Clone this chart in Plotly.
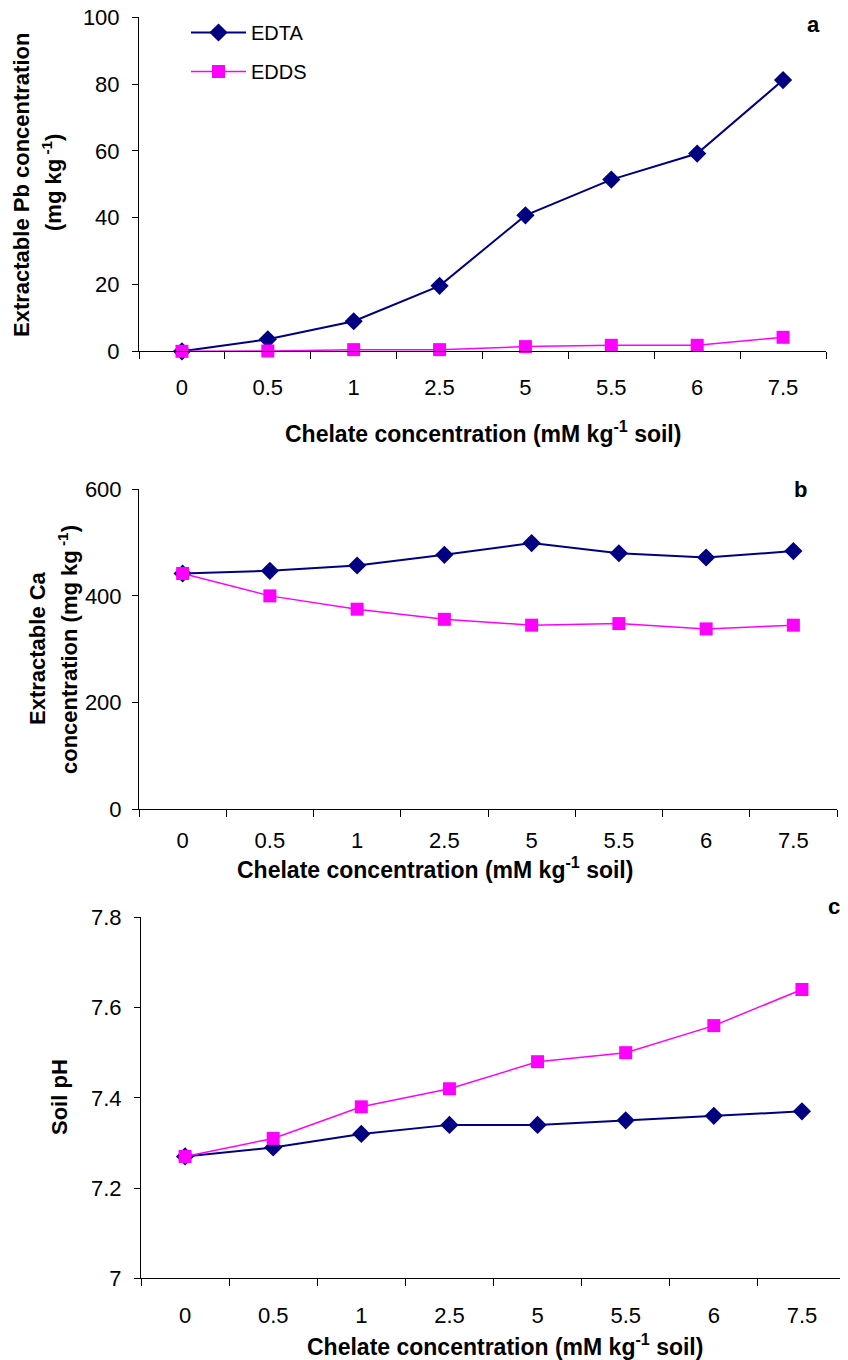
import plotly.graph_objects as go

# ---------------- data ----------------
chelate = ["0", "0.5", "1", "2.5", "5", "5.5", "6", "7.5"]

pb_edta = [0, 3.6, 9.0, 19.6, 40.7, 51.4, 59.2, 81.2]
pb_edds = [0, 0.1, 0.5, 0.5, 1.4, 1.8, 1.8, 4.2]

ca_edta = [442, 447, 457, 477, 499, 480, 472, 484]
ca_edds = [442, 400, 375, 356, 345, 348, 338, 345]

ph_edta = [7.27, 7.29, 7.32, 7.34, 7.34, 7.35, 7.36, 7.37]
ph_edds = [7.27, 7.31, 7.38, 7.42, 7.48, 7.50, 7.56, 7.64]

pb_ticks = [0, 20, 40, 60, 80, 100]
ca_ticks = [0, 200, 400, 600]
ph_ticks = [7.0, 7.2, 7.4, 7.6, 7.8]
ph_ticktext = ["7", "7.2", "7.4", "7.6", "7.8"]

# ---------------- layout helpers ----------------
OFF = 8  # page body margin
W, H = 848 - OFF, 1360 - OFF
def px(x):
    return (x - OFF) / W
def py(y):
    return 1 - (y - OFF) / H
def xd(l, r):
    return [px(l), px(r)]
def yd(t, b):
    return [py(b), py(t)]

NAVY = "#000080"
MAG = "#FF00FF"
FONT = "Liberation Sans, Arial, sans-serif"

fig = go.Figure()

def add_pair(edta, edds, xa, ya, show):
    fig.add_trace(go.Scatter(
        x=chelate, y=edta, name="EDTA", mode="lines+markers",
        line=dict(color=NAVY, width=2),
        marker=dict(symbol="diamond", size=14, color=NAVY),
        xaxis=xa, yaxis=ya, showlegend=show, legendgroup="EDTA",
        cliponaxis=False))
    fig.add_trace(go.Scatter(
        x=chelate, y=edds, name="EDDS", mode="lines+markers",
        line=dict(color=MAG, width=1.5),
        marker=dict(symbol="square", size=13, color=MAG),
        xaxis=xa, yaxis=ya, showlegend=show, legendgroup="EDDS",
        cliponaxis=False))

add_pair(pb_edta, pb_edds, "x", "y", True)
add_pair(ca_edta, ca_edds, "x2", "y2", False)
add_pair(ph_edta, ph_edds, "x3", "y3", False)

xcommon = dict(type="category", categoryorder="array", categoryarray=chelate,
               range=[-0.5, 7.5], showline=True, linecolor="black", linewidth=1,
               ticks="outside", tickson="boundaries", ticklen=7, tickcolor="black",
               showgrid=False, zeroline=False, automargin=False,
               ticklabeloverflow="allow",
               tickfont=dict(family=FONT, size=22, color="black"))
ycommon = dict(showline=True, linecolor="black", linewidth=1,
               ticks="outside", ticklen=6, tickcolor="black",
               showgrid=False, zeroline=False, automargin=False,
               ticklabeloverflow="allow",
               tickfont=dict(family=FONT, size=22, color="black"))

fig.update_layout(
    template="none",
    width=W, height=H, autosize=False,
    margin=dict(l=0, r=0, t=0, b=0, pad=0),
    paper_bgcolor="white", plot_bgcolor="white",
    font=dict(family=FONT, color="black"),
    xaxis=dict(xcommon, domain=xd(139, 826), anchor="y", ticklabelstandoff=16),
    yaxis=dict(ycommon, domain=yd(17.3, 351.3), anchor="x", range=[0, 100],
               tickvals=pb_ticks, ticklabelstandoff=8),
    xaxis2=dict(xcommon, domain=xd(139, 837), anchor="y2", ticklabelstandoff=12),
    yaxis2=dict(ycommon, domain=yd(489.3, 809), anchor="x2", range=[0, 600],
                tickvals=ca_ticks, ticklabelstandoff=6),
    xaxis3=dict(xcommon, domain=xd(141, 846), anchor="y3", ticklabelstandoff=17),
    yaxis3=dict(ycommon, domain=yd(917.3, 1278.3), anchor="x3", range=[7, 7.8],
                tickvals=ph_ticks, ticktext=ph_ticktext, ticklabelstandoff=8),
    legend=dict(x=px(186), y=py(13), xanchor="left", yanchor="top",
                bgcolor="rgba(0,0,0,0)", itemwidth=55, tracegroupgap=10,
                traceorder="grouped", borderwidth=0,
                font=dict(family=FONT, size=20, color="black")),
)

ann = []
def text(x, y, s, size=22, angle=0):
    ann.append(dict(x=px(x), y=py(y), xref="paper", yref="paper", text=s,
                    showarrow=False, textangle=angle, xanchor="center", yanchor="middle",
                    font=dict(family=FONT, size=size, color="black")))

xtitle = "<b>Chelate concentration (mM kg<sup>-1</sup> soil)</b>"
text(483, 432, xtitle, size=23)
text(435, 868, xtitle, size=23)
text(505, 1345, xtitle, size=23)

text(21, 185, "<b>Extractable Pb concentration</b>", angle=-90)
text(52, 183, "<b>(mg kg<sup> -1</sup>)</b>", angle=-90)
text(37, 648, "<b>Extractable Ca</b>", angle=-90)
text(68, 650, "<b>concentration (mg kg<sup> -1</sup>)</b>", angle=-90)
text(59, 1097, "<b>Soil pH</b>", angle=-90)

text(813, 25, "<b>a</b>", size=22)
text(800, 489, "<b>b</b>", size=22)
text(834, 906, "<b>c</b>", size=22)

fig.update_layout(annotations=ann)
fig.write_html("out.html")
